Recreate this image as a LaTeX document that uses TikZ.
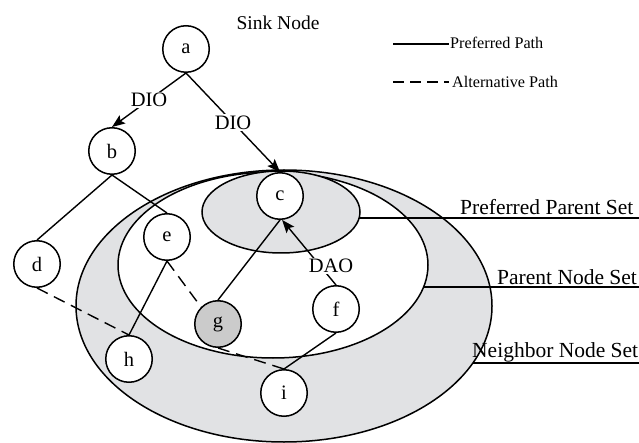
\documentclass[tikz,border=0pt]{standalone}
\usepackage{fontspec}
\setmainfont{Liberation Serif}
\usetikzlibrary{arrows.meta}
\definecolor{setgray}{RGB}{225,226,228}
\definecolor{nodegray}{RGB}{203,203,203}
\begin{document}
\begin{tikzpicture}[x=1pt,y=-1pt,
  nd/.style={circle,draw,line width=1.5pt,fill=white,minimum size=46.5pt,inner sep=0pt,
             font=\fontsize{20.5}{24}\selectfont},
  lbl/.style={fill=white,inner sep=1.5pt,font=\fontsize{20.5}{24}\selectfont},
  setlbl/.style={anchor=base west,inner sep=0pt,font=\fontsize{21.5}{25}\selectfont},
  keytxt/.style={anchor=west,inner sep=0pt,font=\fontsize{16.2}{18}\selectfont},
  link/.style={line width=1.4pt},
  alt/.style={line width=1.4pt,dash pattern=on 12pt off 7pt},
  msg/.style={line width=1.4pt,-{Stealth[length=13pt,width=10pt,inset=2.5pt]}},
  ring/.style={line width=1.5pt},
  leader/.style={line width=1.1pt}]
\useasboundingbox (0,0) rectangle (639,443);

% nested node sets
\draw[ring,fill=setgray] (284,306) ellipse [x radius=208pt, y radius=136pt];
\draw[ring,fill=white]   (273,265) ellipse [x radius=155pt, y radius=93pt];
\draw[ring,fill=setgray] (281,212) ellipse [x radius=79pt, y radius=41pt];

% set labels with leader lines
\coordinate (ppsedge) at (359,218);
\coordinate (pnsedge) at (424,287);
\coordinate (nnsedge) at (473,363);
\coordinate (ppsend) at (639,218);
\coordinate (pnsend) at (639,287);
\coordinate (nnsend) at (639,363);
\draw[leader] (ppsedge) -- (ppsend);
\draw[leader] (pnsedge) -- (pnsend);
\draw[leader] (nnsedge) -- (nnsend);
\node[setlbl] (pps) at (460,215) {Preferred Parent Set};
\node[setlbl] (pns) at (497,284) {Parent Node Set};
\node[setlbl] (nns) at (472,357) {Neighbor Node Set};

% legend
\coordinate (k1a) at (393,44);
\coordinate (k1b) at (449,44);
\coordinate (k2a) at (393,82);
\coordinate (k2b) at (449,82);
\draw[line width=1.3pt] (k1a) -- (k1b);
\draw[line width=1.3pt,dash pattern=on 11pt off 6pt] (k2a) -- (k2b);
\node[keytxt] (key1) at (450,43) {Preferred Path};
\node[keytxt] (key2) at (452,82) {Alternative Path};

\node[font=\fontsize{19.5}{24}\selectfont] (sink) at (278,23) {Sink Node};

% nodes
\node[nd] (a) at (186,49)  {a};
\node[nd] (b) at (112,151) {b};
\node[nd] (c) at (280,196) {c};
\node[nd] (d) at (37,264)  {d};
\node[nd] (e) at (167,237) {e};
\node[nd] (f) at (336,309) {f};
\node[nd,fill=nodegray] (g) at (218,324) {g};
\node[nd] (h) at (129,359) {h};
\node[nd] (i) at (284,393) {i};

% preferred links
\draw[link] (b.south) -- (d.north);
\draw[link] (b.south) -- (e.north);
\draw[link] (e.south) -- (h.north);
\draw[link] (c.south) -- (g.north);
\draw[link] (i.north) -- (f.south);

% alternative links
\draw[alt] (d.south) -- (h.north);
\draw[alt] (e.south) -- (g.north west);
\draw[alt] (g.south) -- (i.north);

% control messages
\draw[msg] (a.south) -- node[lbl] (dio1) {DIO} (b.north);
\draw[msg] (a.south) -- node[lbl] (dio2) {DIO} (c.north);
\draw[msg] (f.north) -- (c.-85);
\node[lbl] (dao) at (331,266) {DAO};
\end{tikzpicture}
\end{document}
